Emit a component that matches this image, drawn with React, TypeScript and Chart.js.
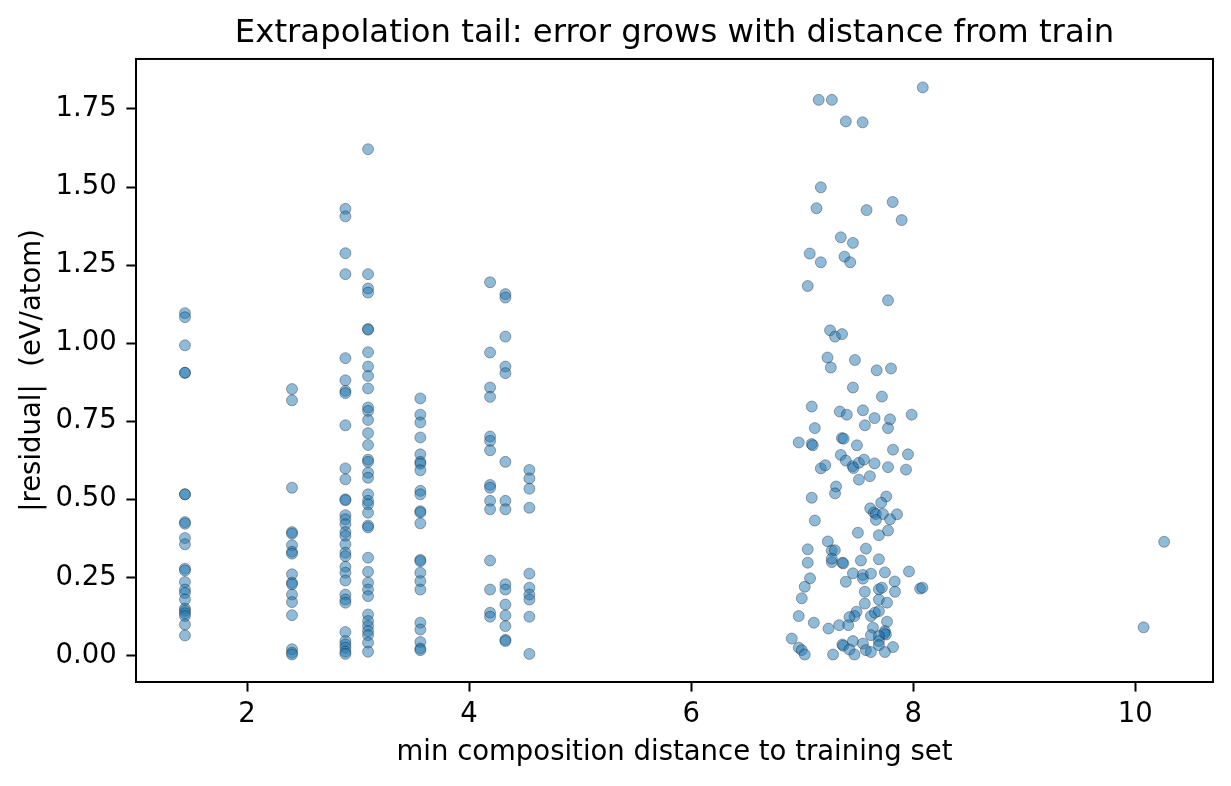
import { useEffect, useRef } from 'react';
import { Chart, registerables } from 'chart.js';

Chart.register(...registerables);

// near-training columns: one x per column, residuals listed per column
const nearX = [1.441, 2.405, 2.886, 3.09, 3.561, 4.189, 4.327, 4.543];

const col1 = [1.096, 1.083, 0.993, 0.905, 0.905, 0.516, 0.516, 0.427, 0.422, 0.376, 0.356, 0.278, 0.272, 0.235, 0.211, 0.2, 0.179, 0.15, 0.143, 0.135, 0.126, 0.099, 0.064];
const col2 = [0.853, 0.817, 0.537, 0.395, 0.39, 0.353, 0.332, 0.326, 0.26, 0.233, 0.228, 0.195, 0.171, 0.129, 0.02, 0.009, 0.003];
const col3 = [1.43, 1.406, 1.288, 1.221, 0.952, 0.881, 0.847, 0.84, 0.737, 0.599, 0.564, 0.5, 0.497, 0.449, 0.436, 0.42, 0.395, 0.383, 0.356, 0.329, 0.318, 0.284, 0.265, 0.24, 0.195, 0.179, 0.169, 0.075, 0.046, 0.035, 0.025, 0.012, 0.005];
const col4 = [1.621, 1.221, 1.175, 1.162, 1.045, 1.043, 0.971, 0.925, 0.895, 0.855, 0.794, 0.783, 0.754, 0.712, 0.674, 0.627, 0.62, 0.585, 0.569, 0.516, 0.495, 0.484, 0.457, 0.416, 0.41, 0.313, 0.268, 0.233, 0.211, 0.19, 0.131, 0.11, 0.094, 0.078, 0.065, 0.041, 0.012];
const col5 = [0.823, 0.771, 0.746, 0.698, 0.644, 0.62, 0.614, 0.593, 0.527, 0.516, 0.462, 0.458, 0.423, 0.306, 0.302, 0.265, 0.238, 0.211, 0.105, 0.083, 0.043, 0.022, 0.017];
const col6 = [1.195, 0.97, 0.858, 0.828, 0.701, 0.687, 0.657, 0.546, 0.537, 0.495, 0.468, 0.304, 0.211, 0.137, 0.124];
const col7 = [1.157, 1.146, 1.021, 0.925, 0.904, 0.62, 0.495, 0.468, 0.228, 0.211, 0.163, 0.128, 0.094, 0.05, 0.046];
const col8 = [0.594, 0.567, 0.534, 0.473, 0.262, 0.217, 0.195, 0.179, 0.124, 0.005];
const nearY = [col1, col2, col3, col4, col5, col6, col7, col8];

// extrapolation tail around 7-8
const tailX = [
  8.086, 7.149, 7.267, 7.393, 7.544, 7.168, 7.129, 7.58, 7.815, 7.896, 7.348, 7.457, 7.068, 7.168, 7.381, 7.433, 7.05, 7.773,
  7.251, 7.296, 7.359, 7.228, 7.258, 7.475, 7.671, 7.8, 7.457, 7.718, 7.086, 7.339, 7.402, 7.547, 7.652, 7.791, 7.986, 7.114,
  7.565, 7.773, 6.969, 7.085, 7.095, 7.358, 7.373, 7.493, 7.818, 7.953, 7.348, 7.393, 7.455, 7.462, 7.511, 7.557, 7.652, 7.773,
  7.935, 7.168, 7.208, 7.511, 7.61, 7.305, 7.296, 7.086, 7.757, 7.712, 7.613, 7.646, 7.664, 7.727, 7.854, 7.664, 7.791, 7.114,
  7.773, 7.691, 7.502, 7.231, 7.05, 7.267, 7.294, 7.574, 7.05, 7.267, 7.267, 7.362, 7.37, 7.529, 7.691, 7.962, 7.457, 7.547,
  7.547, 7.619, 7.745, 7.071, 7.393, 7.833, 7.023, 7.691, 7.718, 7.836, 8.062, 8.083, 7.564, 6.996, 7.691, 7.564, 7.764, 7.489,
  7.471, 7.426, 7.619, 7.655, 7.691, 6.969, 7.105, 7.237, 7.333, 7.415, 7.764, 7.637, 7.745, 7.754, 7.74, 7.619, 7.691, 6.906,
  7.457, 7.362, 7.37, 7.547, 7.691, 7.691, 7.818, 6.969, 6.996, 7.023, 7.426, 7.471, 7.574, 7.619, 7.745, 7.278,
];
const tailY = [
  1.819, 1.779, 1.779, 1.71, 1.707, 1.499, 1.432, 1.426, 1.452, 1.394, 1.339, 1.321, 1.287, 1.259, 1.277, 1.259, 1.183, 1.137,
  1.041, 1.021, 1.029, 0.954, 0.922, 0.946, 0.913, 0.919, 0.858, 0.829, 0.797, 0.781, 0.771, 0.785, 0.76, 0.756, 0.771, 0.728,
  0.737, 0.728, 0.682, 0.677, 0.673, 0.696, 0.694, 0.673, 0.659, 0.644, 0.642, 0.624, 0.606, 0.6, 0.617, 0.627, 0.615, 0.603,
  0.595, 0.599, 0.609, 0.563, 0.574, 0.541, 0.519, 0.505, 0.509, 0.489, 0.471, 0.458, 0.453, 0.453, 0.452, 0.434, 0.436, 0.432,
  0.4, 0.385, 0.393, 0.365, 0.34, 0.336, 0.337, 0.342, 0.297, 0.299, 0.31, 0.297, 0.295, 0.304, 0.308, 0.269, 0.263, 0.258,
  0.246, 0.262, 0.266, 0.247, 0.236, 0.237, 0.22, 0.212, 0.217, 0.204, 0.214, 0.217, 0.204, 0.183, 0.179, 0.166, 0.169, 0.14,
  0.126, 0.123, 0.126, 0.137, 0.142, 0.126, 0.105, 0.086, 0.097, 0.097, 0.108, 0.089, 0.078, 0.067, 0.071, 0.065, 0.062, 0.054,
  0.046, 0.035, 0.031, 0.038, 0.046, 0.033, 0.027, 0.025, 0.017, 0.003, 0.019, 0.003, 0.017, 0.011, 0.011, 0.003,
];

// two far outliers
const farX = [10.075, 10.26];
const farY = [0.09, 0.364];

const xTicks = [2, 4, 6, 8, 10];
const yTicks = [0, 0.25, 0.5, 0.75, 1.0, 1.25, 1.5, 1.75];

const FONT = "'DejaVu Sans', sans-serif";
const LABEL_SIZE = 27.5;
const TITLE_SIZE = 32.3;

const framePlugin = {
  id: 'frame',
  afterDraw(chart: Chart) {
    const { ctx, chartArea } = chart;
    ctx.save();
    ctx.strokeStyle = '#000';
    ctx.lineWidth = 2;
    ctx.strokeRect(chartArea.left, chartArea.top, chartArea.right - chartArea.left, chartArea.bottom - chartArea.top);
    ctx.restore();
  },
};

export default function App() {
  const canvasRef = useRef<HTMLCanvasElement>(null);

  useEffect(() => {
    if (!canvasRef.current) return;

    const points: { x: number; y: number }[] = [];
    nearX.forEach((x, i) => nearY[i].forEach((y) => points.push({ x, y })));
    tailX.forEach((x, i) => points.push({ x, y: tailY[i] }));
    farX.forEach((x, i) => points.push({ x, y: farY[i] }));

    const chart = new Chart(canvasRef.current, {
      type: 'scatter',
      data: {
        datasets: [
          {
            data: points,
            backgroundColor: 'rgba(31,119,180,0.5)',
            borderColor: 'rgba(0,0,0,0.45)',
            borderWidth: 0.7,
            pointRadius: 5.5,
          },
        ],
      },
      plugins: [framePlugin],
      options: {
        responsive: true,
        maintainAspectRatio: false,
        animation: false,
        layout: { padding: { left: 0, right: 18, top: 0, bottom: 0 } },
        plugins: {
          legend: { display: false },
          tooltip: { enabled: false },
          title: {
            display: true,
            fullSize: false,
            text: 'Extrapolation tail: error grows with distance from train',
            color: '#000',
            font: { family: FONT, size: TITLE_SIZE, weight: 'normal' },
            padding: { top: 14, bottom: 6.2 },
          },
        },
        scales: {
          x: {
            type: 'linear',
            min: 1.0,
            max: 10.7,
            afterBuildTicks: (scale) => {
              scale.ticks = xTicks.map((value) => ({ value }));
            },
            afterFit: (scale) => {
              scale.height = 104;
            },
            border: { display: false },
            grid: { drawOnChartArea: false, drawTicks: true, tickLength: 9.6, tickWidth: 2, tickColor: '#000' },
            ticks: {
              color: '#000',
              font: { family: FONT, size: LABEL_SIZE },
              padding: 7,
              maxRotation: 0,
              callback: (v) => String(v),
            },
            title: {
              display: true,
              text: 'min composition distance to training set',
              color: '#000',
              font: { family: FONT, size: LABEL_SIZE },
              padding: { top: 0, bottom: 17 },
            },
          },
          y: {
            type: 'linear',
            min: -0.085,
            max: 1.91,
            afterBuildTicks: (scale) => {
              scale.ticks = yTicks.map((value) => ({ value }));
            },
            afterFit: (scale) => {
              scale.width = 136;
            },
            border: { display: false },
            grid: { drawOnChartArea: false, drawTicks: true, tickLength: 9.6, tickWidth: 2, tickColor: '#000' },
            ticks: {
              color: '#000',
              font: { family: FONT, size: LABEL_SIZE },
              padding: 9.6,
              callback: (v) => Number(v).toFixed(2),
            },
            title: {
              display: true,
              text: '|residual|  (eV/atom)',
              color: '#000',
              font: { family: FONT, size: LABEL_SIZE },
              padding: { top: 16.5, bottom: 0 },
            },
          },
        },
      },
    });

    return () => {
      chart.destroy();
    };
  }, []);

  return (
    <div style={{ position: 'absolute', left: 0, top: 0, width: 1231, height: 786, background: '#fff' }}>
      <canvas ref={canvasRef} />
    </div>
  );
}
